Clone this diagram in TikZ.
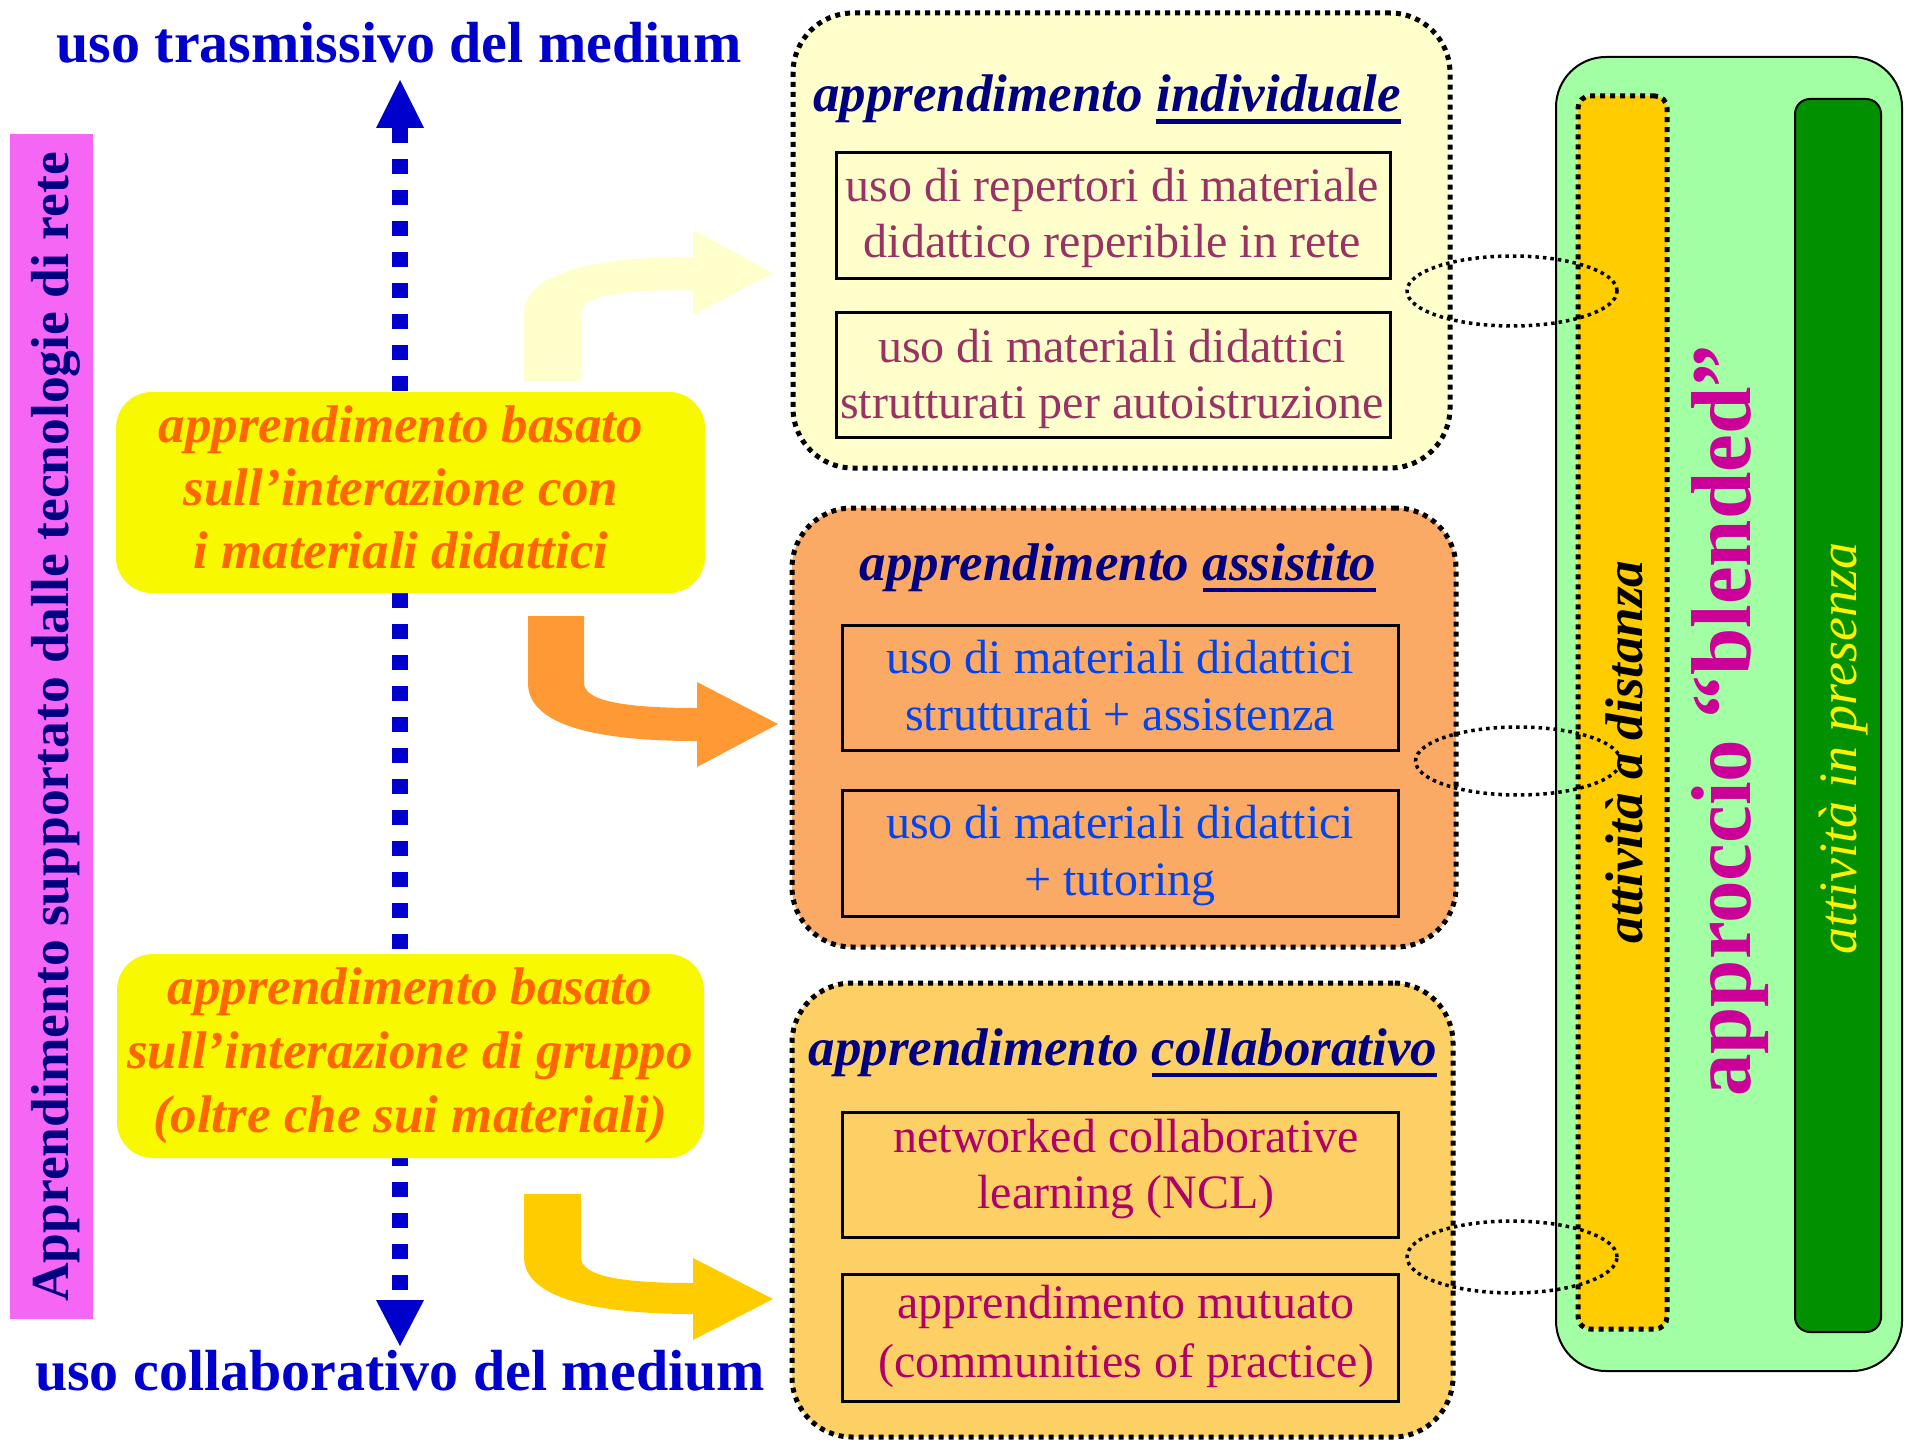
\documentclass[tikz,border=0pt]{standalone}
\usepackage{fontspec}
\setmainfont{Liberation Serif}
\usetikzlibrary{shapes.geometric}
\definecolor{titleblue}{HTML}{0000CC}
\definecolor{navy}{HTML}{000080}
\definecolor{pinkbar}{HTML}{F566F5}
\definecolor{ybox}{HTML}{F8F800}
\definecolor{otext}{HTML}{FF6600}
\definecolor{arr1}{HTML}{FFFFCC}
\definecolor{arr2}{HTML}{FF9933}
\definecolor{arr3}{HTML}{FFCC00}
\definecolor{indfill}{HTML}{FFFFCC}
\definecolor{assfill}{HTML}{FAAA64}
\definecolor{colfill}{HTML}{FCD064}
\definecolor{indtext}{HTML}{993366}
\definecolor{asstext}{HTML}{0044EE}
\definecolor{coltext}{HTML}{B0006A}
\definecolor{lgreen}{HTML}{A3FFA3}
\definecolor{dgreen}{HTML}{009000}
\definecolor{barorange}{HTML}{FFCC00}
\definecolor{blendmag}{HTML}{CC0099}
\newcommand\ulword[1]{\setbox0\hbox{#1}\rlap{\rule[-12pt]{\wd0}{4.5pt}}\box0}
\newcommand\twol[2]{\begin{tabular}[t]{@{}c@{}}#1\\#2\end{tabular}}
\newcommand\threel[3]{\begin{tabular}[t]{@{}c@{}}#1\\#2\\#3\end{tabular}}
\tikzset{
  txt/.style={inner sep=0pt, outer sep=0pt, anchor=base},
  bigbox/.style={draw=black, line width=5pt, dash pattern=on 5pt off 5pt, rounded corners=60pt, inner sep=0pt},
  innerbox/.style={draw=black, line width=3pt, inner sep=0pt, minimum width=555pt, minimum height=125pt},
  ylbox/.style={fill=ybox, rounded corners=36pt, inner sep=0pt},
  dotell/.style={ellipse, draw=black, line width=3.5pt, dash pattern=on 3.5pt off 4pt, inner sep=0pt},
  vshaft/.style={draw=titleblue, line width=16pt, dash pattern=on 15pt off 16pt},
  hfont/.style={font=\fontsize{58}{68}\selectfont\bfseries, text=titleblue},
  ofont/.style={font=\fontsize{53}{63}\selectfont\bfseries\itshape, text=otext},
  btitle/.style={font=\fontsize{53}{63}\selectfont\bfseries\itshape, text=navy},
  itext/.style={font=\fontsize{48}{57}\selectfont},
}
\begin{document}
\begin{tikzpicture}[x=1pt,y=-1pt]
\useasboundingbox (0,0) rectangle (1910,1447);
\fill[white] (0,0) rectangle (1910,1447);

% left pink bar
\node[fill=pinkbar, minimum width=83pt, minimum height=1185pt, inner sep=0pt] (pink) at (51.5,726.5) {};
\node[txt, rotate=90, font=\fontsize{53.5}{60}\selectfont\bfseries, text=navy] (pinktext) at (68,727) {Apprendimento supportato dalle tecnologie di rete};

% titles
\node[txt, hfont] (toptitle) at (399,63) {uso trasmissivo del medium};
\node[txt, hfont] (bottitle) at (400,1390) {uso collaborativo del medium};

% vertical dashed double arrow
\coordinate (uptip) at (400,80);
\coordinate (upbase) at (400,128);
\coordinate (dntip) at (400,1346);
\coordinate (dnbase) at (400,1300);
\draw[vshaft] (upbase) -- (dnbase);
\fill[titleblue] (uptip) -- ([xshift=-24pt]upbase) -- ([xshift=24pt]upbase) -- cycle;
\fill[titleblue] (dntip) -- ([xshift=-24pt]dnbase) -- ([xshift=24pt]dnbase) -- cycle;

% yellow boxes
\node[ylbox, minimum width=589pt, minimum height=201pt] (y1) at (410.5,492.5) {};
\node[txt, ofont] (y1text) at (401,442) {\threel{apprendimento basato}{sull’interazione con}{i materiali didattici}};
\node[ylbox, minimum width=587pt, minimum height=204pt] (y2) at (410.5,1056) {};
\node[txt, ofont, font=\fontsize{53}{64}\selectfont\bfseries\itshape] (y2text) at (410,1004.5) {\threel{apprendimento basato}{sull’interazione di gruppo}{(oltre che sui materiali)}};

% block arrows
\fill[arr1] (524,381) -- (524,315) .. controls (524,270) and (600,257) .. (693,257)
  -- (693,230) -- (773,273) -- (693,315) -- (693,290)
  .. controls (610,290) and (581,297) .. (581,315) -- (581,381) -- cycle;
\fill[arr2] (528,616) -- (528,683) .. controls (528,725) and (595,741) .. (697,741)
  -- (697,767) -- (778,724) -- (697,682) -- (697,708)
  .. controls (620,708) and (584,700) .. (584,683) -- (584,616) -- cycle;
\fill[arr3] (524,1194) -- (524,1257) .. controls (524,1298) and (595,1314) .. (693,1314)
  -- (693,1340) -- (773,1299) -- (693,1258) -- (693,1283)
  .. controls (615,1283) and (581,1275) .. (581,1257) -- (581,1194) -- cycle;

% learning boxes
\node[bigbox, fill=indfill, minimum width=657pt, minimum height=455pt] (ind) at (1121.5,240.5) {};
\node[bigbox, fill=assfill, minimum width=664pt, minimum height=439pt] (ass) at (1124,727.5) {};
\node[bigbox, fill=colfill, minimum width=661pt, minimum height=454pt] (col) at (1122.5,1210) {};

\node[txt, btitle] (indtitle) at (1107,112) {apprendimento \ulword{individuale}};
\node[txt, btitle] (asstitle) at (1118,580) {apprendimento \ulword{assistito}};
\node[txt, btitle] (coltitle) at (1123,1065) {apprendimento \ulword{collaborativo}};

\node[innerbox, minimum width=554pt] (i1) at (1113,215.5) {};
\node[innerbox, minimum width=554pt] (i2) at (1113,374.5) {};
\node[innerbox, minimum width=556pt] (a1) at (1120,687.5) {};
\node[innerbox, minimum width=556pt, minimum height=126pt] (a2) at (1120,853) {};
\node[innerbox, minimum width=556pt] (c1) at (1120,1174.5) {};
\node[innerbox, minimum width=556pt, minimum height=127pt] (c2) at (1120,1337.5) {};

\node[txt, itext, text=indtext, font=\fontsize{48}{56}\selectfont] (i1t) at (1112.5,202) {\twol{uso di repertori di materiale}{didattico reperibile in rete}};
\node[txt, itext, text=indtext, font=\fontsize{48}{56}\selectfont] (i2t) at (1112,362) {\twol{uso di materiali didattici}{strutturati per autoistruzione}};
\node[txt, itext, text=asstext] (a1t) at (1120,673) {\twol{uso di materiali didattici}{strutturati + assistenza}};
\node[txt, itext, text=asstext] (a2t) at (1120,838) {\twol{uso di materiali didattici}{+ tutoring}};
\node[txt, itext, text=coltext, font=\fontsize{48}{56}\selectfont] (c1t) at (1126,1152) {\twol{networked collaborative}{learning (NCL)}};
\node[txt, itext, text=coltext, font=\fontsize{48}{59}\selectfont] (c2t) at (1126,1318) {\twol{apprendimento mutuato}{(communities of practice)}};

% right panel
\node[draw=black, line width=2pt, fill=lgreen, rounded corners=50pt, minimum width=346pt, minimum height=1314pt, inner sep=0pt] (green) at (1729,714) {};
\node[draw=black, line width=5pt, dash pattern=on 5pt off 5pt, fill=barorange, rounded corners=12pt, minimum width=89pt, minimum height=1233pt, inner sep=0pt] (dist) at (1622.5,712.5) {};
\node[draw=black, line width=2pt, fill=dgreen, rounded corners=15pt, minimum width=86pt, minimum height=1233pt, inner sep=0pt] (pres) at (1838,715.5) {};

\node[txt, rotate=90, font=\fontsize{53}{60}\selectfont\bfseries\itshape, text=black] (disttext) at (1642,752) {attività a distanza};
\node[txt, rotate=90, font=\fontsize{85}{96}\selectfont\bfseries, text=blendmag] (blended) at (1750,721) {approccio “blended”};
\node[txt, rotate=90, font=\fontsize{54}{60}\selectfont\itshape, text=yellow] (prestext) at (1856,749) {attività in presenza};

% dotted ellipses
\node[dotell, minimum width=210pt, minimum height=70pt] (e1) at (1512,291) {};
\node[dotell, minimum width=205pt, minimum height=68pt] (e2) at (1518,761) {};
\node[dotell, minimum width=210pt, minimum height=72pt] (e3) at (1512,1257) {};
\end{tikzpicture}
\end{document}
